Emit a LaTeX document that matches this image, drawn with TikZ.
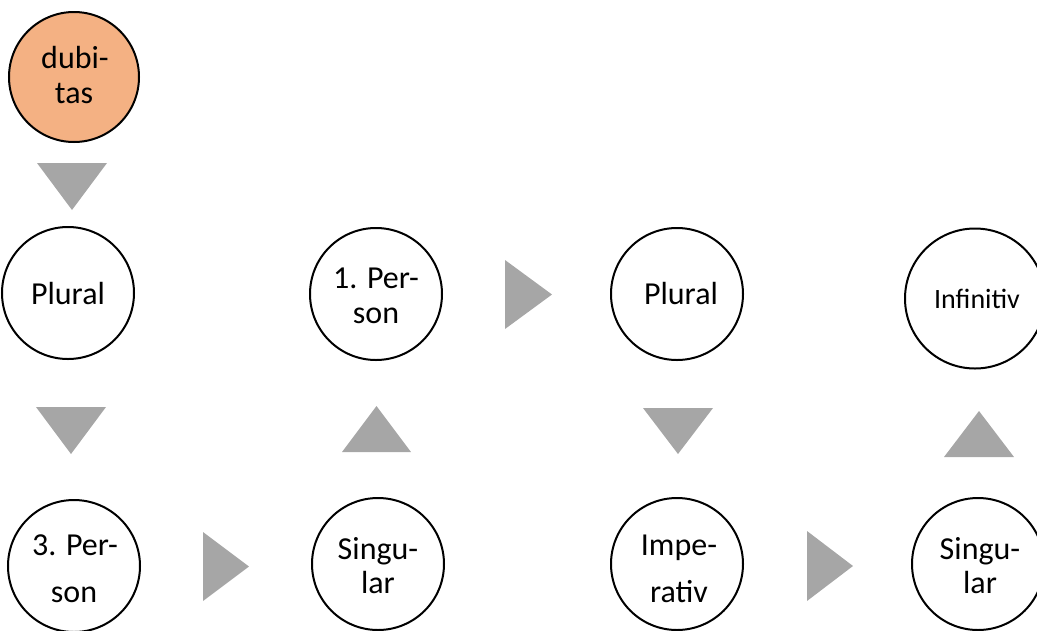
\documentclass[tikz,border=0pt]{standalone}
\usepackage{fontspec}
\setmainfont{Carlito}
\definecolor{peach}{RGB}{244,177,131}
\definecolor{arrgray}{RGB}{166,166,166}
\begin{document}
\begin{tikzpicture}[x=1pt,y=-1pt,
  circ/.style={circle,draw=black,line width=2pt,inner sep=0pt,minimum size=132pt},
  bigcirc/.style={circle,draw=black,line width=2pt,inner sep=0pt,minimum size=140pt},
  lbl/.style={anchor=base,inner sep=0pt,font=\fontsize{32}{38}\selectfont},
  slbl/.style={anchor=base,inner sep=0pt,font=\fontsize{28}{33}\selectfont},
  tri/.style={fill=arrgray,draw=none}]
\useasboundingbox (0,0) rectangle (1037,630);
% circles
\node[circ,fill=peach,minimum size=130pt] (dub) at (74,77) {};
\node[circ] (plL) at (68,293) {};
\node[circ] (p3) at (74,566) {};
\node[circ] (p1) at (376,294) {};
\node[circ] (sgM) at (378,564) {};
\node[circ] (plM) at (677,294) {};
\node[circ] (imp) at (677,564) {};
\node[bigcirc] (inf) at (975,298.5) {};
\node[circ] (sgR) at (978,564) {};
% labels
\node[lbl] (dubA) at (75,68) {dubi-};
\node[lbl] (dubB) at (74,103) {tas};
\node[lbl] (plLt) at (68,304) {Plural};
\node[lbl] (p3A) at (75,555) {3. Per-};
\node[lbl] (p3B) at (74,602) {son};
\node[lbl] (p1A) at (376,288) {1. Per-};
\node[lbl] (p1B) at (376,323) {son};
\node[lbl] (sgMA) at (378,559) {Singu-};
\node[lbl] (sgMB) at (378,593) {lar};
\node[lbl] (plMt) at (681,304) {Plural};
\node[lbl] (impA) at (679,555) {Impe-};
\node[lbl] (impB) at (679,602) {rativ};
\node[slbl] (inft) at (977,308) {Infinitiv};
\node[lbl] (sgRA) at (980,559) {Singu-};
\node[lbl] (sgRB) at (980,593) {lar};
% triangles
\fill[tri] (37,163) -- (107,163) -- (72,210) -- cycle;
\fill[tri] (36,407) -- (106,407) -- (71,454) -- cycle;
\fill[tri] (203,532) -- (203,601) -- (249,566.5) -- cycle;
\fill[tri] (505,260) -- (505,329) -- (552,294.5) -- cycle;
\fill[tri] (342,452) -- (411,452) -- (376.5,406) -- cycle;
\fill[tri] (643,408) -- (713,408) -- (678,454) -- cycle;
\fill[tri] (944,457) -- (1014,457) -- (979,411) -- cycle;
\fill[tri] (807,531) -- (807,601) -- (853,566) -- cycle;
\end{tikzpicture}
\end{document}
